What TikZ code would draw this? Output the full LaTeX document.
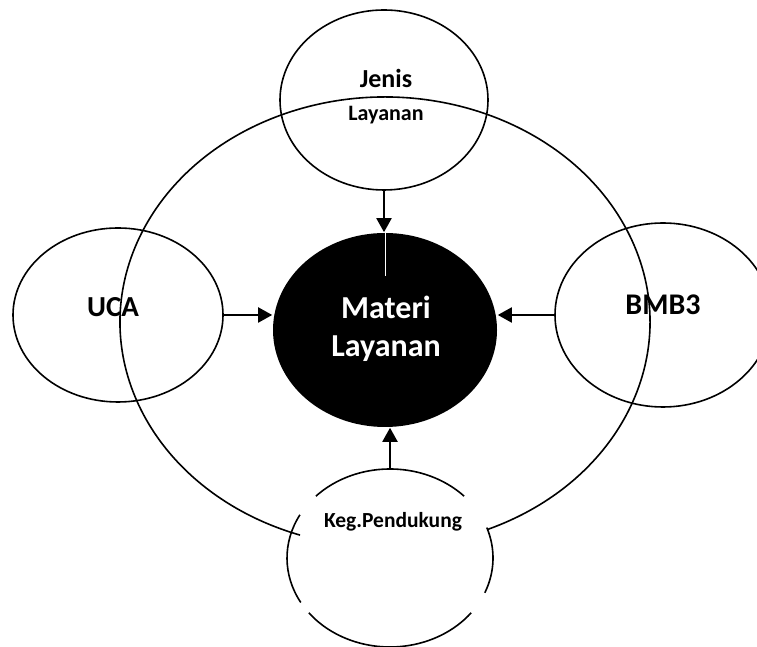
\documentclass[tikz,border=0pt]{standalone}
\usepackage{fontspec}
\setmainfont{Carlito}
\usetikzlibrary{arrows.meta, shapes.geometric}

\begin{document}
\begin{tikzpicture}[x=1pt, y=1pt, line width=1.6pt,
    bubble/.style={ellipse, draw, inner sep=0pt},
    lbl/.style={anchor=base, inner sep=0pt, font=\bfseries\fontsize{#1}{#1}\selectfont},
    feed/.style={-{Triangle[length=14pt, width=15pt]}, line width=2pt}]
    \useasboundingbox (0,0) rectangle (757,647);

    % outer ring, hidden behind the lower bubble
    \coordinate (ring) at (385,325);
    \draw ([shift={(-67.2:265 and 225)}]ring) arc[start angle=-67.2, end angle=251.3, x radius=265, y radius=225];

    \node[bubble, minimum width=208pt, minimum height=180pt] (jenis) at (384,547) {};
    \node[bubble, minimum width=210pt, minimum height=174pt] (uca) at (118,332) {};
    \node[bubble, minimum width=216pt, minimum height=184pt] (bmb) at (663,332) {};
    \node[ellipse, fill=black, inner sep=0pt, minimum width=224pt, minimum height=194pt] (materi) at (385,317) {};
    \node[ellipse, inner sep=0pt, minimum width=206pt, minimum height=178pt] (keg) at (390,89) {};

    % broken outline of the lower bubble
    \foreach \a/\b in {44/136, 151/210, 218/322, 337/380}
      \draw ([shift={(\a:103 and 89)}]keg.center) arc[start angle=\a, end angle=\b, x radius=103, y radius=89];

    \node[lbl=26] (jenisA) at (386,559) {Jenis};
    \node[lbl=22] (jenisB) at (386,526) {Layanan};
    \node[lbl=29] (ucaT) at (113,330) {UCA};
    \node[lbl=30] (bmbT) at (663,332) {BMB3};
    \node[lbl=32, text=white] (materiA) at (386,328) {Materi};
    \node[lbl=32, text=white] (materiB) at (386,290) {Layanan};
    \node[lbl=21.5] (kegT) at (393,119) {Keg.Pendukung};

    \draw[feed] (jenis.south) -- (jenis.south |- materi.north);
    \draw[white, line width=1pt] (materi.north) -- ++(0,-44);
    \draw[feed] (uca.east) -- (uca.east -| materi.west);
    \draw[feed] (bmb.west) -- (bmb.west -| materi.east);
    \draw[feed] (keg.north) -- (keg.north |- materi.south);
\end{tikzpicture}
\end{document}
